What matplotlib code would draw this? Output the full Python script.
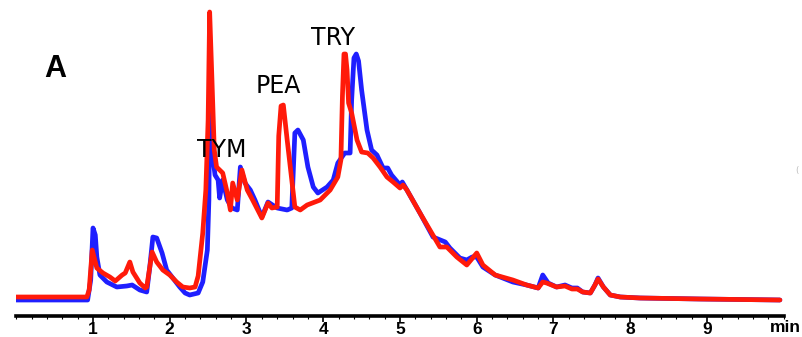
import matplotlib
matplotlib.use("Agg")
import matplotlib.pyplot as plt
from matplotlib.ticker import MultipleLocator, FixedLocator

# Retention time (min) and detector signal (arbitrary units), red trace
red_t = [0.00, 0.92, 0.95, 0.99, 1.05, 1.13, 1.22, 1.29, 1.38, 1.42, 1.48, 1.52, 1.61, 1.68, 1.70,
         1.77, 1.83, 1.91, 2.00, 2.09, 2.17, 2.26, 2.33, 2.37, 2.43, 2.47, 2.50, 2.52, 2.55, 2.58,
         2.61, 2.65, 2.69, 2.75, 2.79, 2.82, 2.88, 2.94, 3.01, 3.08, 3.20, 3.28, 3.33, 3.40, 3.42,
         3.45, 3.48, 3.53, 3.59, 3.63, 3.70, 3.79, 3.96, 4.09, 4.19, 4.23, 4.25, 4.27, 4.29, 4.31,
         4.33, 4.37, 4.44, 4.50, 4.58, 4.65, 4.74, 4.83, 4.91, 5.00, 5.04, 5.09, 5.26, 5.52, 5.61,
         5.74, 5.87, 6.00, 6.08, 6.24, 6.47, 6.65, 6.80, 6.86, 6.91, 7.04, 7.15, 7.24, 7.31, 7.38,
         7.48, 7.54, 7.58, 7.65, 7.74, 7.87, 8.13, 8.91, 9.95]
red_v = [19, 19, 26, 66, 48, 43, 39, 35, 41, 43, 54, 44, 33, 28, 29,
         64, 54, 46, 41, 34, 29, 28, 29, 40, 83, 126, 196, 304, 236, 166,
         149, 146, 143, 123, 106, 133, 116, 146, 126, 116, 98, 113, 108, 109, 180,
         210, 211, 176, 136, 109, 106, 111, 116, 126, 139, 156, 220, 262, 262, 246,
         213, 203, 176, 164, 163, 158, 149, 139, 134, 128, 131, 126, 103, 69, 69,
         59, 51, 63, 51, 41, 36, 31, 28, 34, 33, 29, 30, 27, 27, 24,
         23, 31, 37, 29, 21, 19, 18, 17, 16]

# Blue trace
blue_t = [0.00, 0.93, 0.97, 1.00, 1.03, 1.05, 1.09, 1.18, 1.31, 1.44, 1.51, 1.61, 1.70, 1.74, 1.78,
          1.83, 1.90, 1.96, 2.04, 2.13, 2.20, 2.26, 2.37, 2.43, 2.49, 2.51, 2.525, 2.55, 2.59, 2.63,
          2.65, 2.69, 2.75, 2.81, 2.88, 2.92, 2.98, 3.05, 3.11, 3.20, 3.28, 3.40, 3.53, 3.59, 3.63,
          3.67, 3.74, 3.80, 3.87, 3.93, 4.05, 4.13, 4.19, 4.28, 4.35, 4.37, 4.40, 4.43, 4.46, 4.50,
          4.57, 4.63, 4.70, 4.78, 4.84, 4.89, 5.00, 5.03, 5.09, 5.26, 5.43, 5.59, 5.65, 5.78, 5.87,
          5.94, 6.00, 6.08, 6.24, 6.47, 6.65, 6.80, 6.86, 6.93, 7.04, 7.15, 7.24, 7.31, 7.38, 7.48,
          7.54, 7.58, 7.65, 7.74, 7.87, 8.13, 8.91, 9.95]
blue_v = [16, 16, 36, 88, 81, 59, 41, 34, 29, 30, 31, 26, 24, 49, 79,
          78, 63, 46, 38, 29, 23, 21, 23, 34, 66, 116, 250, 165, 141, 136,
          118, 136, 116, 108, 106, 149, 133, 126, 116, 99, 114, 108, 106, 108, 183,
          186, 176, 149, 129, 123, 129, 136, 153, 163, 163, 216, 258, 262, 255, 226,
          186, 166, 161, 148, 148, 141, 131, 134, 126, 103, 79, 74, 68, 58, 56,
          59, 59, 49, 41, 34, 31, 28, 41, 33, 29, 31, 28, 28, 24, 23,
          31, 38, 29, 21, 19, 18, 17, 16]

major_ticks = [1, 2, 3, 4, 5, 6, 7, 8, 9]
tick_labels = ["1", "2", "3", "4", "5", "6", "7", "8", "9"]
peak_labels = ["TYM", "PEA", "TRY"]
peak_label_pos = [(2.68, 166), (3.41, 230), (4.13, 278)]

W, H = 803, 337
fig = plt.figure(figsize=(W / 100, H / 100), dpi=100)
left, right, bottom, top = 16.25, 783.75, 316, 0
ax = fig.add_axes([left / W, (H - bottom) / H, (right - left) / W, (bottom - top) / H])
ax.set_xlim(0, 10)
ax.set_ylim(0, 316)

ax.plot(blue_t, blue_v, color="#1f1fff", lw=3.4, solid_joinstyle="round", solid_capstyle="round", zorder=2)
ax.plot(red_t, red_v, color="#ff1a0a", lw=3.4, solid_joinstyle="round", solid_capstyle="round", zorder=3)

for s in ["left", "right", "top"]:
    ax.spines[s].set_visible(False)
ax.spines["bottom"].set_linewidth(2.6)
ax.spines["bottom"].set_color("black")
ax.set_yticks([])
ax.xaxis.set_major_locator(FixedLocator(major_ticks))
ax.xaxis.set_minor_locator(MultipleLocator(0.2))
ax.set_xticklabels(tick_labels)
ax.tick_params(axis="x", which="major", direction="out", length=4, width=1.2, pad=0.5,
               labelsize=12.5)
ax.tick_params(axis="x", which="minor", direction="out", length=2.5, width=0.8)
for lbl in ax.get_xticklabels():
    lbl.set_fontweight("bold")
    lbl.set_family("Liberation Sans")

fig.text(785 / W, 1 - 327 / H, "min", fontsize=12.5, fontweight="bold", family="Liberation Sans",
         ha="center", va="center")
fig.text(55 / W, 1 - 69 / H, "A", fontsize=22, fontweight="bold", family="Liberation Sans",
         ha="center", va="center")
fig.text(797 / W, 1 - 170 / H, "(", fontsize=6, color="#bbbbbb", ha="center", va="center")

for lab, (x, y) in zip(peak_labels, peak_label_pos):
    ax.text(x, y, lab, fontsize=17, ha="center", va="center", color="black", zorder=4)

fig.savefig("out.png", dpi=100)
